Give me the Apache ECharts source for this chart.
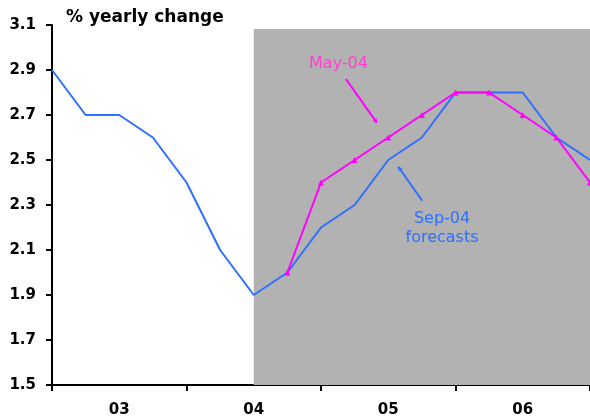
<!DOCTYPE html>
<html>
<head>
<meta charset="utf-8">
<script src="https://cdn.jsdelivr.net/npm/echarts@6/dist/echarts.min.js"></script>
<style>
html,body{margin:0;padding:0;background:#fff;}
#chart{width:590px;height:419px;}
</style>
</head>
<body>
<div id="chart"></div>
<script>
// Quarterly categories (2003 Q1 .. 2007 Q1)
const categories = ['03Q1','03Q2','03Q3','03Q4','04Q1','04Q2','04Q3','04Q4','05Q1','05Q2','05Q3','05Q4','06Q1','06Q2','06Q3','06Q4','07Q1'];
// Sep-04 forecasts (history + forecast)
const sep04 = [2.9, 2.7, 2.7, 2.6, 2.4, 2.1, 1.9, 2.0, 2.2, 2.3, 2.5, 2.6, 2.8, 2.8, 2.8, 2.6, 2.5];
// May-04 forecasts
const may04 = [null, null, null, null, null, null, null, 2.0, 2.4, 2.5, 2.6, 2.7, 2.8, 2.8, 2.7, 2.6, 2.4];
// Y axis ticks
const yTicks = [1.5, 1.7, 1.9, 2.1, 2.3, 2.5, 2.7, 2.9, 3.1];
const forecastStart = '04Q3';
const forecastEnd = '07Q1';

const BLUE = '#2f6fff';
const MAGENTA = '#ff00ff';
const FONT = 'DejaVu Sans';

const chart = echarts.init(document.getElementById('chart'), null, {renderer: 'canvas'});
chart.setOption({
  animation: false,
  backgroundColor: '#ffffff',
  title: {
    text: '% yearly change',
    left: 66, top: 9, padding: 0,
    textStyle: {fontFamily: FONT, fontWeight: 'bold', fontSize: 17, color: '#000'}
  },
  grid: {left: 52, right: 0, top: 25, bottom: 34, containLabel: false},
  xAxis: [{
    type: 'category',
    data: categories,
    boundaryGap: false,
    axisLine: {lineStyle: {color: '#000', width: 2}},
    axisTick: {show: true, length: 6, inside: false, interval: (i) => i % 4 === 0, lineStyle: {color: '#000', width: 2}},
    axisLabel: {
      interval: (i) => i % 4 === 2,
      formatter: (v) => v.slice(0, 2),
      fontFamily: FONT, fontWeight: 'bold', fontSize: 15, color: '#000', margin: 18
    },
    splitLine: {show: false}
  }, {
    type: 'value', min: 0, max: categories.length - 1, show: false
  }],
  yAxis: {
    type: 'value',
    min: yTicks[0], max: yTicks[yTicks.length - 1], interval: 0.2,
    axisLine: {show: true, lineStyle: {color: '#000', width: 2}},
    axisTick: {show: true, length: 6, lineStyle: {color: '#000', width: 2}},
    axisLabel: {
      formatter: (v) => v.toFixed(1),
      fontFamily: FONT, fontWeight: 'bold', fontSize: 15, color: '#000', margin: 16
    },
    splitLine: {show: false}
  },
  series: [{
    name: 'Sep-04',
    type: 'line',
    data: sep04,
    symbol: 'none',
    lineStyle: {color: BLUE, width: 2},
    z: 3,
    markArea: {
      silent: true,
      itemStyle: {color: '#b2b2b2'},
      data: [[{xAxis: forecastStart, yAxis: 3.082}, {xAxis: forecastEnd, yAxis: 1.5}]]
    }
  }, {
    name: 'May-04',
    type: 'line',
    data: may04,
    symbol: 'triangle',
    symbolSize: 6,
    showAllSymbol: true,
    itemStyle: {color: MAGENTA},
    lineStyle: {color: MAGENTA, width: 2},
    z: 4
  }, {
    name: 'annotations',
    type: 'line',
    xAxisIndex: 1,
    data: [],
    z: 5,
    markLine: {
      silent: true,
      symbol: ['none', 'arrow'],
      symbolSize: 4,
      label: {show: false},
      data: [
        [{coord: [8.74, 2.86], lineStyle: {color: MAGENTA, width: 2, type: 'solid'}}, {coord: [9.66, 2.666]}],
        [{coord: [11.01, 2.319], lineStyle: {color: BLUE, width: 2, type: 'solid'}}, {coord: [10.30, 2.470]}]
      ]
    },
    markPoint: {
      silent: true,
      symbol: 'circle',
      symbolSize: 0,
      data: [
        {coord: [8.52, 2.929], label: {show: true, position: 'inside', formatter: 'May-04', color: '#ff3fcf', fontFamily: FONT, fontSize: 16}},
        {coord: [11.6, 2.198], label: {show: true, position: 'inside', formatter: 'Sep-04\nforecasts', color: BLUE, fontFamily: FONT, fontSize: 16, lineHeight: 19, align: 'center'}}
      ]
    }
  }]
});
</script>
</body>
</html>
